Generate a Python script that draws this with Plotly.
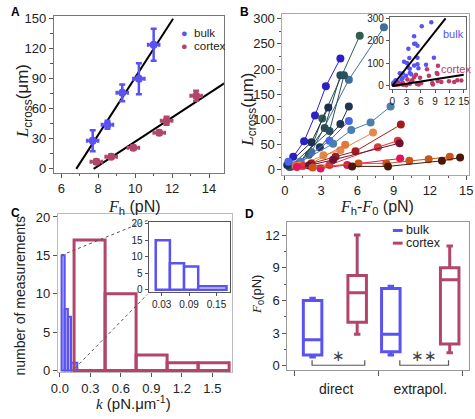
import plotly.graph_objects as go
import numpy as np

W, H = 475, 419
def fx(p): return p / W
def fy(p): return 1 - p / H

BLUE = "#5a52f2"
RED = "#b2456a"
FONT = "Liberation Sans, Arial, sans-serif"
TXT = "#222"

# ---------------- Panel A data ----------------
a_bulk_F = [7.7, 8.5, 9.3, 10.2, 11.0]
a_bulk_L = [28, 44, 76, 90, 124]
a_bulk_Ferr = [0.3, 0.3, 0.3, 0.3, 0.3]
a_bulk_Lerr = [10.5, 4, 8.4, 15.4, 16]
a_cortex_F = [7.9, 8.7, 9.9, 11.3, 11.7, 13.3]
a_cortex_L = [7, 12, 21, 36, 48, 73]
a_cortex_Ferr = [0.3, 0.3, 0.3, 0.3, 0.3, 0.3]
a_cortex_Lerr = [2, 2, 2, 2, 4, 5]

# ---------------- Panel B data (per-cell curves) ----------------
b_bulk_x = [
    [0.7, 1.6, 2.5, 3.4, 4.6],
    [0.5, 2.0, 3.1, 6.2],
    [0.6, 2.2, 5.3, 8.2],
    [1.1, 3.3, 4.6],
    [0.4, 3.7, 4.9],
    [0.2, 2.2, 3.6],
    [2.9, 4.6, 5.3],
    [0.3, 1.3, 3.7, 5.3],
    [1.3, 4.0, 5.5, 7.1, 8.75],
]
b_bulk_y = [
    [26, 57, 108, 166, 221],
    [8, 30, 102, 266],
    [7, 35, 179, 283],
    [10, 83, 188],
    [6, 77, 188],
    [10, 55, 124],
    [45, 91, 126],
    [16, 16, 58, 97],
    [16, 52, 79, 94, 126],
]
b_bulk_colors = ["#2d1fc6", "#2e5e4e", "#3f6e98", "#244c55", "#2a5060",
                 "#1d2f4f", "#1f3550", "#4a66e8", "#4a7fb0"]
b_cortex_x = [
    [1.3, 3.2, 4.6, 7.3],
    [0.9, 2.2, 5.0],
    [2.2, 4.2, 5.85, 9.6],
    [1.5, 3.7, 7.7, 9.35],
    [2.0, 4.0, 9.5],
    [1.0, 2.96, 5.17, 9.54],
    [2.3, 6.1, 8.4, 10.3, 11.9, 13.65],
    [5.57, 8.54, 13.0, 14.5],
]
b_cortex_y = [
    [9, 29, 39, 74],
    [8, 13, 50],
    [13, 26, 37, 90],
    [8, 10, 45, 58],
    [9, 20, 53],
    [6, 3, 10, 22.6],
    [5, 13, 13, 18, 21, 26],
    [7, 7, 18, 24.5],
]
b_cortex_colors = ["#e8874a", "#e07838", "#a51b1b", "#d63a3a", "#6e1232",
                   "#e2145a", "#c8561a", "#4a1808"]
b_fit_slope_bulk = 26.8
b_fit_slope_cortex = 3.33

# ---------------- Panel C data ----------------
c_cortex_edges = [0.14, 0.445, 0.75, 1.055, 1.36, 1.665]
c_cortex_counts = [17, 10, 2, 1, 1]
c_bulk_edges = [0.017, 0.048, 0.079, 0.11, 0.172]
c_bulk_counts = [15, 8, 7, 1]

# ---------------- Panel D data ----------------
d_categories = ["direct", "extrapol."]
d_bulk_low = [0.8, 1.0]
d_bulk_q1 = [1.0, 1.3]
d_bulk_med = [2.4, 2.9]
d_bulk_q3 = [6.0, 7.1]
d_bulk_high = [6.2, 7.3]
d_cortex_low = [2.9, 1.2]
d_cortex_q1 = [4.0, 2.0]
d_cortex_med = [6.7, 7.9]
d_cortex_q3 = [8.3, 9.0]
d_cortex_high = [12.0, 11.0]

fig = go.Figure()

# ---- A ----
for F, L, Fe, Le, col in [(a_bulk_F, a_bulk_L, a_bulk_Ferr, a_bulk_Lerr, BLUE),
                          (a_cortex_F, a_cortex_L, a_cortex_Ferr, a_cortex_Lerr, RED)]:
    m, b = np.polyfit(F, L, 1)
    x0 = -b / m
    x1 = min((150 - b) / m, 14.9)
    fig.add_trace(go.Scatter(x=[x0, x1], y=[m * x0 + b, m * x1 + b], mode="lines",
                             line=dict(color="black", width=2), xaxis="x", yaxis="y",
                             showlegend=False, hoverinfo="skip"))
    fig.add_trace(go.Scatter(x=F, y=L, mode="markers", xaxis="x", yaxis="y",
                             marker=dict(color=col, size=8),
                             error_x=dict(type="data", array=Fe, color=col, thickness=2.5, width=2),
                             error_y=dict(type="data", array=Le, color=col, thickness=2.5, width=3),
                             showlegend=False))

# ---- B ----
for xs, ys, col in zip(b_bulk_x + b_cortex_x, b_bulk_y + b_cortex_y, b_bulk_colors + b_cortex_colors):
    fig.add_trace(go.Scatter(x=xs, y=ys, mode="lines+markers", xaxis="x2", yaxis="y2",
                             line=dict(color=col, width=1), marker=dict(color=col, size=8),
                             showlegend=False))

# ---- B inset ----
bx = [v for s in b_bulk_x for v in s]
by = [v for s in b_bulk_y for v in s]
cx = [v for s in b_cortex_x for v in s]
cy = [v for s in b_cortex_y for v in s]
fig.add_trace(go.Scatter(x=bx, y=by, mode="markers", xaxis="x3", yaxis="y3",
                         marker=dict(color="#5a52f2", size=4.5), showlegend=False))
fig.add_trace(go.Scatter(x=cx, y=cy, mode="markers", xaxis="x3", yaxis="y3",
                         marker=dict(color="#c03a66", size=4.5), showlegend=False))
xe = 300 / b_fit_slope_bulk
fig.add_trace(go.Scatter(x=[0, xe], y=[0, b_fit_slope_bulk * xe], mode="lines", xaxis="x3", yaxis="y3",
                         line=dict(color="black", width=2), showlegend=False))
fig.add_trace(go.Scatter(x=[0, 15], y=[0, b_fit_slope_cortex * 15], mode="lines", xaxis="x3", yaxis="y3",
                         line=dict(color="black", width=2), showlegend=False))

# ---- C ----
def bars(edges, counts):
    e = np.array(edges)
    w = np.diff(e)
    return (e[:-1] + w / 2), w, counts

cxm, cw, cc = bars(c_cortex_edges, c_cortex_counts)
bxm, bw, bc = bars(c_bulk_edges, c_bulk_counts)
fig.add_trace(go.Bar(x=bxm, y=bc, width=bw, xaxis="x4", yaxis="y4",
                     marker=dict(color="rgba(90,82,242,0.45)", line=dict(color=BLUE, width=2)),
                     showlegend=False))
fig.add_trace(go.Bar(x=cxm, y=cc, width=cw, xaxis="x4", yaxis="y4",
                     marker=dict(color="rgba(0,0,0,0)", line=dict(color=RED, width=3)),
                     showlegend=False))
fig.add_trace(go.Bar(x=bxm, y=bc, width=bw, xaxis="x5", yaxis="y5",
                     marker=dict(color="white", line=dict(color=BLUE, width=2.5)),
                     showlegend=False))

# ---- D ----
offs = {"bulk": [-0.28, -0.35], "cortex": [0.25, 0.35]}
for name, lo, q1, md, q3, hi, col in [
        ("bulk", d_bulk_low, d_bulk_q1, d_bulk_med, d_bulk_q3, d_bulk_high, BLUE),
        ("cortex", d_cortex_low, d_cortex_q1, d_cortex_med, d_cortex_q3, d_cortex_high, RED)]:
    xs = [i + 1 + o for i, o in enumerate(offs[name])]
    fig.add_trace(go.Box(x=xs, lowerfence=lo, q1=q1, median=md, q3=q3, upperfence=hi,
                         xaxis="x6", yaxis="y6", width=0.22, whiskerwidth=0.35,
                         line=dict(color=col, width=3), fillcolor="white",
                         showlegend=False, boxpoints=False))

def ax(domain, rng, anchor, **kw):
    d = dict(domain=domain, range=rng, anchor=anchor, showgrid=False, zeroline=False,
             showline=True, mirror=True, linecolor="#888", linewidth=1,
             ticks="outside", ticklen=4, tickcolor="#555",
             tickfont=dict(family=FONT, size=13, color=TXT))
    d.update(kw)
    return d

MINOR = dict(ticks="outside", ticklen=2.5, tickcolor="#555")
SMALL = dict(family=FONT, size=10, color=TXT)

layout = dict(
    width=W, height=H, margin=dict(l=0, r=0, t=0, b=0),
    paper_bgcolor="white", plot_bgcolor="white", barmode="overlay",
    xaxis=ax([fx(48), fx(222)], [5.6, 14.8], "y", tickvals=[6, 8, 10, 12, 14],
             minor=dict(dtick=1, **MINOR), linecolor="#777"),
    yaxis=ax([fy(173), fy(12)], [-4, 153], "x", tickvals=[0, 30, 60, 90, 120, 150],
             minor=dict(dtick=15, **MINOR), linecolor="#777"),
    xaxis2=ax([fx(282), fx(473)], [-0.19, 15.24], "y2", dtick=3,
              minor=dict(dtick=1.5, **MINOR), linecolor="#aaa"),
    yaxis2=ax([fy(175), fy(10)], [-9.7, 309.7], "x2", dtick=50,
              minor=dict(dtick=25, **MINOR), linecolor="#aaa"),
    xaxis3=ax([fx(392), fx(470)], [-0.47, 15.5], "y3", dtick=3, ticklen=3,
              tickfont=SMALL, linecolor="#666"),
    yaxis3=ax([fy(87), fy(13)], [-13, 308], "x3", dtick=100, ticklen=3,
              tickfont=SMALL, linecolor="#666"),
    xaxis4=ax([fx(52), fx(230)], [-0.02, 1.69], "y4", dtick=0.3, tickformat=".1f",
              linecolor="#bbb"),
    yaxis4=ax([fy(377), fy(215)], [-0.2, 20.4], "x4", dtick=5, linecolor="#bbb"),
    xaxis5=ax([fx(145), fx(228)], [0.0015, 0.179], "y5", tickvals=[0.03, 0.09, 0.15], ticklen=3,
              tickfont=SMALL, linecolor="#555"),
    yaxis5=ax([fy(295), fy(223)], [-0.7, 20.6], "x5", dtick=5, ticklen=3,
              tickfont=SMALL, linecolor="#555"),
    xaxis6=ax([fx(287), fx(473)], [0.42, 2.58], "y6", tickvals=[1, 2], ticktext=d_categories,
              ticklen=0, ticklabelstandoff=6, tickfont=dict(family=FONT, size=14, color=TXT),
              minor=dict(tickvals=[0.5, 1.5, 2.5], ticks="outside", ticklen=5, tickcolor="#555"),
              linecolor="#999"),
    yaxis6=ax([fy(375), fy(223)], [-0.39, 13.23], "x6", dtick=3,
              minor=dict(dtick=1.5, **MINOR), linecolor="#999"),
)
fig.update_layout(**layout)

IT = "<span style='font-family:Liberation Serif'><i>{}</i></span>"
Lcross = IT.format("L") + "<sub>cross</sub>(μm)"
Fh = IT.format("F") + "<sub>h</sub> (pN)"
FhF0 = IT.format("F") + "<sub>h</sub>-" + IT.format("F") + "<sub>0</sub> (pN)"
kttl = IT.format("k") + " (pN.μm<sup>-1</sup>)"
F0 = IT.format("F") + "<sub>0</sub>(pN)"

anns = []
def txt(t, x, y, size, col=TXT, xa="center", ya="middle", angle=0, fam=FONT):
    anns.append(dict(text=t, x=fx(x), y=fy(y), xref="paper", yref="paper", showarrow=False,
                     xanchor=xa, yanchor=ya, textangle=angle, borderpad=0,
                     font=dict(family=fam, size=size, color=col)))

# axis titles
txt(Fh, 131, 208, 16)
txt(Lcross, 17, 100, 17, angle=-90)
txt(FhF0, 379, 208, 16)
txt(Lcross, 248, 108, 17, angle=-90)
txt(kttl, 129, 408, 15)
txt("number of measurements", 13, 299, 14, angle=-90)
txt(F0, 257, 298, 13, angle=-90)

# panel letters
for t, x, y in [("A", 3, 8), ("B", 238, 8), ("C", 3, 214), ("D", 243, 215)]:
    txt(f"<b>{t}</b>", x, y, 12, col="black", xa="left")

# legend A
for t, col, y in [("bulk", BLUE, 30), ("cortex", RED, 43)]:
    txt("●", 182, y, 11, col=col)
    txt(t, 190, y, 11.5, xa="left")
# inset B labels
txt("bulk", 445, 31, 11, col="#5a52f2", xa="left")
txt("cortex", 443, 67, 11, col="#c03a66", xa="left")

shapes = []
# legend D
for t, col, y in [("bulk", BLUE, 232), ("cortex", RED, 245)]:
    shapes.append(dict(type="line", xref="paper", yref="paper", x0=fx(395), x1=fx(405),
                       y0=fy(y), y1=fy(y), line=dict(color=col, width=3)))
    txt(t, 407, y, 12.5, xa="left")
# significance brackets D
for x0, x1, star in [(0.714, 1.34, "∗"), (1.757, 2.336, "∗∗")]:
    shapes.append(dict(type="path", xref="x6", yref="y6",
                       path=f"M {x0},0.5 L {x0},0.05 L {x1},0.05 L {x1},0.5",
                       line=dict(color="#555", width=1.2)))
    anns.append(dict(text=star, x=(x0 + x1) / 2, y=0.9, xref="x6", yref="y6", showarrow=False,
                     xanchor="center", yanchor="middle", font=dict(family=FONT, size=15, color="#444")))
# dashed zoom lines C
shapes.append(dict(type="line", xref="x4", yref="y4", x0=0.015, y0=15, x1=0.87, y1=19.6,
                   line=dict(color="#555", width=1, dash="dot")))
shapes.append(dict(type="line", xref="x4", yref="y4", x0=0.15, y0=0.3, x1=0.86, y1=9.9,
                   line=dict(color="#555", width=1, dash="dot")))

fig.update_layout(annotations=anns, shapes=shapes)
fig.write_html("out.html")
